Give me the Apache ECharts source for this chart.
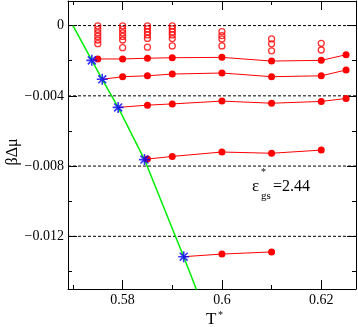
<!DOCTYPE html>
<html><head><meta charset="utf-8">
<script src="https://cdn.jsdelivr.net/npm/echarts@6/dist/echarts.min.js"></script>
<style>html,body{margin:0;padding:0;background:#fff}#c{width:358px;height:327px}</style>
</head><body><div id="c"></div>
<script>
// ---- data ----
const xTicksMajor = [0.58, 0.6, 0.62];
const xTicksMinor = [0.57, 0.59, 0.61];
const yTicksMajor = [0, -0.004, -0.008, -0.012];
const yTicksMinor = [-0.002, -0.006, -0.010, -0.014];

// coexistence (blue stars)
const starT = [0.5738, 0.5759, 0.5791, 0.5844, 0.5923];
const starY = [-0.00198, -0.00306, -0.00466, -0.00763, -0.01316];

// green coexistence line
const greenT = [0.5700, 0.5738, 0.5759, 0.5791, 0.5844, 0.5923, 0.5962];
const greenY = [0, -0.00198, -0.00306, -0.00466, -0.00763, -0.01316, -0.0160];

// filled red branches
const row1T = [0.575, 0.58, 0.585, 0.59, 0.60, 0.61, 0.62, 0.625];
const row1Y = [-0.00190, -0.00190, -0.00186, -0.00183, -0.00181, -0.00202, -0.00198, -0.00166];
const row2T = [0.58, 0.585, 0.59, 0.60, 0.61, 0.62, 0.625];
const row2Y = [-0.00291, -0.00286, -0.00276, -0.00270, -0.00291, -0.00286, -0.00253];
const row3T = [0.585, 0.59, 0.60, 0.61, 0.62, 0.625];
const row3Y = [-0.00453, -0.00446, -0.00430, -0.00442, -0.00432, -0.00415];
const row4T = [0.585, 0.59, 0.60, 0.61, 0.62];
const row4Y = [-0.00760, -0.00745, -0.00720, -0.00727, -0.00709];
const row5T = [0.60, 0.61];
const row5Y = [-0.01301, -0.01289];

// open circles
const openT = [
  0.575,0.575,0.575,0.575,0.575,0.575,
  0.58,0.58,0.58,0.58,0.58,0.58,
  0.585,0.585,0.585,0.585,0.585,0.585,
  0.59,0.59,0.59,0.59,0.59,0.59,
  0.60,0.60,0.60,0.60,
  0.61,0.61,0.61,
  0.62,0.62
];
const openY = [
  -0.00002,-0.00022,-0.00042,-0.00062,-0.00082,-0.00103,
  -0.00002,-0.00022,-0.00042,-0.00062,-0.00082,-0.00126,
  -0.00002,-0.00019,-0.00036,-0.00053,-0.00073,-0.00123,
  -0.00002,-0.00019,-0.00036,-0.00053,-0.00074,-0.00116,
  -0.00034,-0.00057,-0.00076,-0.00116,
  -0.00076,-0.00104,-0.00144,
  -0.00101,-0.00139
];

// ---- chart ----
const FONT = 'Liberation Serif';
const zip = (a, b) => a.map((v, i) => [v, b[i]]);
const chart = echarts.init(document.getElementById('c'), null, {renderer: 'canvas'});

const XMIN = 0.569, XMAX = 0.627, YMIN = -0.015, YMAX = 0.0014;
const fmtNum = v => String(+v.toFixed(4)).replace('-', '\u2212');

function xAx(pos, ticks, len, labels, line) {
  return {
    type: 'value', min: XMIN, max: XMAX, position: pos,
    splitLine: {show: false},
    axisLine: {show: line, onZero: false, lineStyle: {color: '#000', width: 1}},
    axisTick: {show: true, inside: true, length: len, customValues: ticks, lineStyle: {color: '#000', width: 1}},
    axisLabel: labels ? {show: true, customValues: ticks, formatter: fmtNum, fontFamily: FONT, fontSize: 14, color: '#000', margin: 4} : {show: false}
  };
}
function yAx(pos, ticks, len, labels, line) {
  return {
    type: 'value', min: YMIN, max: YMAX, position: pos,
    splitLine: {show: false},
    axisLine: {show: line, onZero: false, lineStyle: {color: '#000', width: 1}},
    axisTick: {show: true, inside: true, length: len, customValues: ticks, lineStyle: {color: '#000', width: 1}},
    axisLabel: labels ? {show: true, customValues: ticks, formatter: fmtNum, fontFamily: FONT, fontSize: 14, color: '#000', margin: 4} : {show: false}
  };
}

function rowSeries(i, T, Y) {
  const data = [{value: [starT[i], starY[i]], symbol: 'none'}].concat(zip(T, Y));
  return {
    type: 'line', data, symbol: 'circle', symbolSize: 7, z: 3,
    itemStyle: {color: '#ff0000'}, lineStyle: {color: '#ff0000', width: 1}
  };
}

const gridLineSeries = yTicksMajor.map(v => ({
  type: 'line', data: [[XMIN, v], [XMAX, v]], symbol: 'none', silent: true, z: 1,
  lineStyle: {type: [3, 2], color: '#000', width: 1}
}));

const starPath = 'path://M5 0L5 10M0 5L10 5M1.4 1.4L8.6 8.6M1.4 8.6L8.6 1.4';

chart.setOption({
  animation: false,
  grid: {left: 68, right: 2, top: 1, bottom: 38},
  xAxis: [
    xAx('bottom', xTicksMajor, 9, true, true),
    xAx('bottom', xTicksMinor, 4, false, false),
    xAx('top', xTicksMajor, 9, false, true),
    xAx('top', xTicksMinor, 4, false, false)
  ],
  yAxis: [
    yAx('left', yTicksMajor, 9, true, true),
    yAx('left', yTicksMinor, 4, false, false),
    yAx('right', yTicksMajor, 9, false, true),
    yAx('right', yTicksMinor, 4, false, false)
  ],
  series: gridLineSeries.concat([
    {
      type: 'line', data: zip(greenT, greenY), symbol: 'none', z: 2,
      lineStyle: {color: '#00ee00', width: 1.5}
    },
    rowSeries(0, row1T, row1Y),
    rowSeries(1, row2T, row2Y),
    rowSeries(2, row3T, row3Y),
    rowSeries(3, row4T, row4Y),
    rowSeries(4, row5T, row5Y),
    {
      type: 'scatter', data: zip(openT, openY), symbol: 'circle', symbolSize: 6, z: 3,
      itemStyle: {color: 'rgba(255,255,255,0)', borderColor: '#ff0000', borderWidth: 1.3}
    },
    {
      type: 'scatter', data: zip(starT, starY), symbol: starPath, symbolSize: 11, z: 5,
      itemStyle: {color: '#0000ff', borderColor: '#0000ff', borderWidth: 1.6}
    }
  ]),
  graphic: [
    {type: 'text', left: 252, top: 178, style: {text: 'ε', font: '17px ' + FONT, fill: '#000'}},
    {type: 'text', left: 261, top: 167, style: {text: '*', font: '10px ' + FONT, fill: '#000'}},
    {type: 'text', left: 261, top: 191, style: {text: 'gs', font: '11px ' + FONT, fill: '#000'}},
    {type: 'text', left: 273, top: 179, style: {text: '=2.44', font: '16px ' + FONT, fill: '#000'}},
    {type: 'text', left: 206, top: 311, style: {text: 'T', font: '17px ' + FONT, fill: '#000'}},
    {type: 'text', left: 218, top: 310, style: {text: '*', font: '10px ' + FONT, fill: '#000'}},
    {type: 'text', x: 13, y: 152, rotation: Math.PI / 2, style: {text: 'βΔμ', font: '16px ' + FONT, fill: '#000', align: 'center', verticalAlign: 'middle'}}
  ]
});
</script>
</body></html>
